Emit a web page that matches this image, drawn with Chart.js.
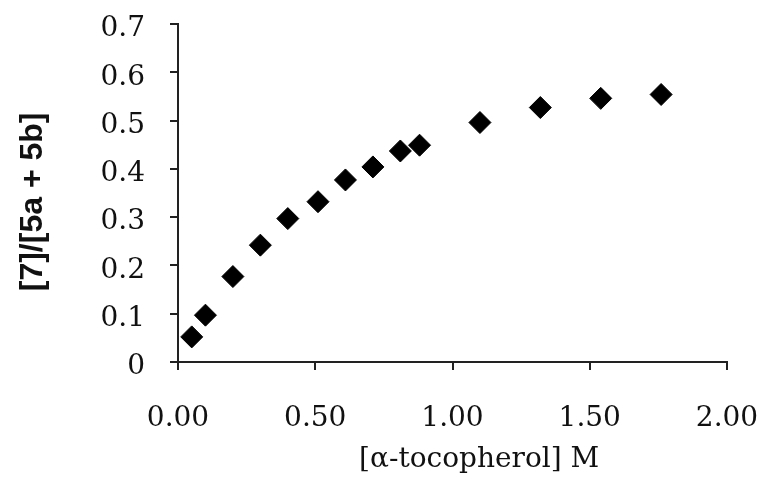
<!DOCTYPE html>
<html lang="en">
<head>
    <meta charset="UTF-8">
    <title>Ratio vs alpha-tocopherol</title>
    <script src="https://cdn.jsdelivr.net/npm/chart.js"></script>
    <style>
        html, body {
            margin: 0;
            padding: 0;
            background-color: #ffffff;
        }
        .chart-container {
            width: 762px;
            height: 481px;
        }
    </style>
</head>
<body>
    <div class="chart-container">
        <canvas id="ratioChart"></canvas>
    </div>

    <script>
        // Data
        const tocopherol = [0.05, 0.10, 0.20, 0.30, 0.40, 0.51, 0.61, 0.71, 0.81, 0.88, 1.10, 1.32, 1.54, 1.76];
        const ratio = [0.052, 0.097, 0.177, 0.242, 0.297, 0.332, 0.377, 0.404, 0.437, 0.449, 0.496, 0.527, 0.546, 0.554];
        const xTicks = [0, 0.5, 1.0, 1.5, 2.0];
        const yTicks = [0, 0.1, 0.2, 0.3, 0.4, 0.5, 0.6, 0.7];

        const points = tocopherol.map((x, i) => ({ x: x, y: ratio[i] }));
        const axisColor = '#222';
        const nb = '\u00a0';

        const ctx = document.getElementById('ratioChart').getContext('2d');
        new Chart(ctx, {
            type: 'scatter',
            data: {
                datasets: [{
                    data: points,
                    pointStyle: 'rectRot',
                    pointRadius: 11,
                    pointHoverRadius: 11,
                    backgroundColor: '#000',
                    borderColor: '#000',
                    borderWidth: 1
                }]
            },
            options: {
                responsive: true,
                maintainAspectRatio: false,
                animation: false,
                layout: {
                    padding: { top: 24, right: 35, left: 0, bottom: 0 }
                },
                plugins: {
                    legend: { display: false },
                    tooltip: { enabled: false }
                },
                scales: {
                    x: {
                        type: 'linear',
                        min: 0,
                        max: 2,
                        afterBuildTicks: scale => {
                            scale.ticks = xTicks.map(v => ({ value: v }));
                        },
                        afterFit: scale => {
                            scale.height = 119;
                            scale.paddingLeft = 0;
                            scale.paddingRight = 0;
                        },
                        ticks: {
                            color: '#111',
                            padding: 32,
                            maxRotation: 0,
                            font: { family: 'DejaVu Serif', size: 28 },
                            callback: v => v.toFixed(2)
                        },
                        grid: {
                            drawOnChartArea: false,
                            tickLength: 8,
                            color: axisColor,
                            lineWidth: 2
                        },
                        border: { color: axisColor, width: 2 },
                        title: {
                            display: true,
                            // leading spaces push the centred title right, as in the original
                            text: nb.repeat(6) + '[\u03b1-tocopherol] M',
                            color: '#111',
                            padding: { top: 0, bottom: 4 },
                            font: { family: 'DejaVu Serif', size: 28 }
                        }
                    },
                    y: {
                        min: 0,
                        max: 0.7,
                        afterBuildTicks: scale => {
                            scale.ticks = yTicks.map(v => ({ value: v }));
                        },
                        afterFit: scale => {
                            scale.width = 178;
                            scale.paddingTop = 0;
                            scale.paddingBottom = 0;
                        },
                        ticks: {
                            color: '#111',
                            padding: 25,
                            labelOffset: 5,
                            font: { family: 'DejaVu Serif', size: 28 },
                            callback: v => v === 0 ? '0' : v.toFixed(1)
                        },
                        grid: {
                            drawOnChartArea: false,
                            tickLength: 8,
                            color: axisColor,
                            lineWidth: 2
                        },
                        border: { color: axisColor, width: 2 },
                        title: {
                            display: true,
                            text: '[7]/[5a + 5b]' + nb.repeat(2),
                            color: '#111',
                            padding: { top: 14, bottom: 0 },
                            font: { family: 'Liberation Sans', size: 32, weight: 'bold' }
                        }
                    }
                }
            }
        });
    </script>
</body>
</html>
